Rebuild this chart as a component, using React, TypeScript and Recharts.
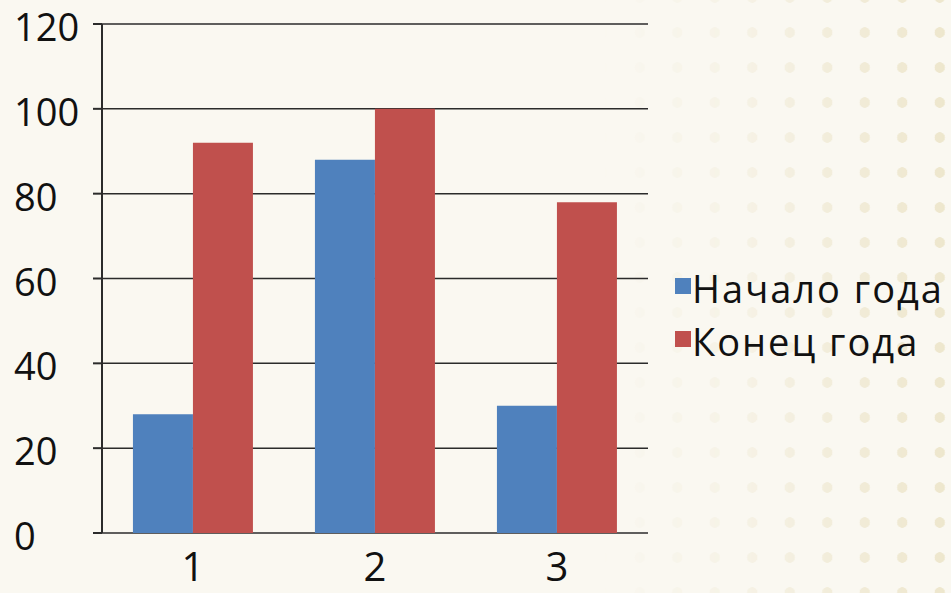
import { BarChart, Bar, XAxis, YAxis, CartesianGrid } from "recharts";

const categories = ["1", "2", "3"];
const startOfYear = [28, 88, 30];
const endOfYear = [92, 100, 78];
const yTicks = [0, 20, 40, 60, 80, 100, 120];
const edgeTicks = [0, 1, 2, 3];
const seriesNames = ["Начало года", "Конец года"];

const COLORS = ["#4F81BD", "#C0504D"];
const FONT = "'Open Sans', sans-serif";
const AXIS = "#2b2b2b";

const data = categories.map((c, i) => ({
  name: c,
  pos: i + 0.5,
  start: startOfYear[i],
  end: endOfYear[i],
}));

// labels sit flush left, like the original
function YTick({ x, y, payload }: any) {
  return (
    <text x={x - 77} y={y + 17} textAnchor="start" fontSize={38} fontFamily={FONT} fill="#111">
      {payload.value}
    </text>
  );
}

function XTick({ x, y, payload }: any) {
  return (
    <text x={x} y={y + 40} textAnchor="middle" fontSize={40} fontFamily={FONT} fill="#111">
      {payload.value}
    </text>
  );
}

export default function App() {
  return (
    <div
      style={{
        position: "absolute", left: 0, top: 0, width: 951, height: 593,
        background: "#FAF8F1", overflow: "hidden",
      }}
    >
      {/* dotted backdrop, fading in from the left */}
      <div
        style={{
          position: "absolute", inset: 0,
          backgroundImage: "radial-gradient(circle, #EDE6CC 0 5px, transparent 5.5px)",
          backgroundSize: "37.5px 35px",
          backgroundPosition: "21px 15px",
          WebkitMaskImage: "linear-gradient(to right, transparent 600px, rgba(0,0,0,0.3) 740px, black 951px)",
          maskImage: "linear-gradient(to right, transparent 600px, rgba(0,0,0,0.3) 740px, black 951px)",
        }}
      />
      <div style={{ position: "absolute", left: 0, top: 0 }}>
        <BarChart
          width={951}
          height={593}
          data={data}
          margin={{ top: 24, right: 303, left: 0, bottom: 0 }}
          barCategoryGap="17%"
          barGap={0}
        >
          <CartesianGrid xAxisId="cat" vertical={false} stroke={AXIS} strokeWidth={1.5} />
          <XAxis
            xAxisId="edges"
            type="number"
            dataKey="pos"
            domain={[0, 3]}
            ticks={edgeTicks}
            tick={false}
            height={0}
            tickSize={10}
            axisLine={{ stroke: AXIS, strokeWidth: 2 }}
            tickLine={{ stroke: AXIS, strokeWidth: 2 }}
          />
          <XAxis
            xAxisId="cat"
            dataKey="name"
            height={60}
            axisLine={false}
            tickLine={false}
            tick={<XTick />}
          />
          <YAxis
            domain={[0, 120]}
            ticks={yTicks}
            width={102}
            tickSize={9}
            axisLine={{ stroke: AXIS, strokeWidth: 2 }}
            tickLine={{ stroke: AXIS, strokeWidth: 2 }}
            tick={<YTick />}
            interval={0}
          />
          <Bar xAxisId="cat" dataKey="start" name={seriesNames[0]} fill={COLORS[0]} isAnimationActive={false} />
          <Bar xAxisId="cat" dataKey="end" name={seriesNames[1]} fill={COLORS[1]} isAnimationActive={false} />
        </BarChart>
      </div>
      <div style={{ position: "absolute", left: 675, top: 262, fontFamily: FONT, fontSize: 38, color: "#111", letterSpacing: 2 }}>
        {seriesNames.map((n, i) => (
          <div key={n} style={{ position: "relative", height: 53, lineHeight: "52px", whiteSpace: "nowrap" }}>
            <span style={{ position: "absolute", left: 0, top: 16, width: 16, height: 16, background: COLORS[i] }} />
            <span style={{ position: "absolute", left: 17 }}>{n}</span>
          </div>
        ))}
      </div>
    </div>
  );
}
